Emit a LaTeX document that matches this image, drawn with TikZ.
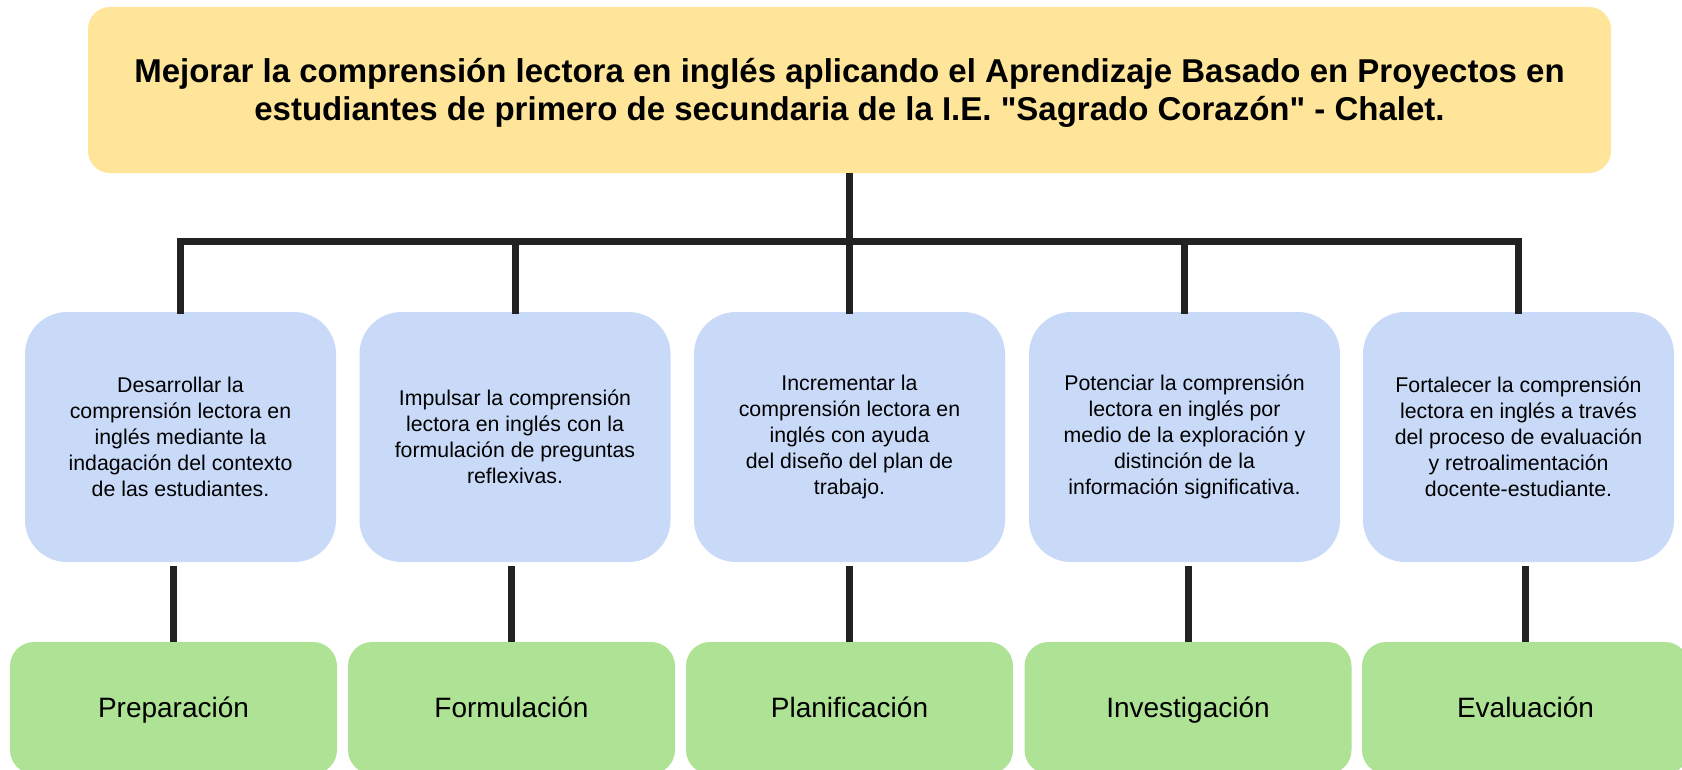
\documentclass[tikz,border=0pt]{standalone}
\usepackage{fontspec}
\setmainfont{Liberation Sans}[Ligatures=TeXOff]
\definecolor{yellowc}{HTML}{FFE599}
\definecolor{bluec}{HTML}{C9DAF8}
\definecolor{greenc}{HTML}{AEE294}
\definecolor{linec}{HTML}{222222}
\begin{document}
\begin{tikzpicture}[x=1pt,y=-1pt,
  topbox/.style={fill=yellowc, rounded corners=22pt, minimum width=1523pt, minimum height=166pt, inner sep=0pt},
  titletext/.style={inner sep=0pt, align=center, font=\fontsize{33}{38}\selectfont\bfseries},
  goalbox/.style={fill=bluec, rounded corners=42pt, minimum width=311pt, minimum height=250pt, inner sep=0pt, align=center, font=\fontsize{21.3}{26}\selectfont},
  phasebox/.style={fill=greenc, rounded corners=24pt, minimum width=327pt, minimum height=132pt, inner sep=0pt, text height=20pt, text depth=2pt, align=center, font=\fontsize{28}{34}\selectfont},
  link/.style={draw=linec, line width=7pt}]
\useasboundingbox (0,0) rectangle (1682,769);
\clip (0,0) rectangle (1682,769);

\node[topbox] (top) at (849.5,90) {};
\node[titletext] (title) at (849.5,93) {Mejorar la comprensión lectora en inglés aplicando el Aprendizaje Basado en Proyectos en\\estudiantes de primero de secundaria de la I.E. "Sagrado Corazón" - Chalet.};

\node[goalbox] (b1) at (180.5,437) {Desarrollar la\\comprensión lectora en\\inglés mediante la\\indagación del contexto\\de las estudiantes.};
\node[goalbox] (b2) at (515,437) {Impulsar la comprensión\\lectora en inglés con la\\formulación de preguntas\\reflexivas.};
\node[goalbox] (b3) at (849.5,437) {Incrementar la\\comprensión lectora en\\inglés con ayuda\\del diseño del plan de\\trabajo.};
\node[goalbox] (b4) at (1184.5,437) {Potenciar la comprensión\\lectora en inglés por\\medio de la exploración y\\distinción de la\\información significativa.};
\node[goalbox] (b5) at (1518.5,437) {Fortalecer la comprensión\\lectora en inglés a través\\del proceso de evaluación\\y retroalimentación\\docente-estudiante.};

\node[phasebox] (g1) at (173.5,708) {Preparación};
\node[phasebox] (g2) at (511.5,708) {Formulación};
\node[phasebox] (g3) at (849.5,708) {Planificación};
\node[phasebox] (g4) at (1188,708) {Investigación};
\node[phasebox] (g5) at (1525.5,708) {Evaluación};

\coordinate (bus) at (849.5,241.5);
\draw[link] (top.south) -- (bus);
\foreach \i in {1,...,5}{
  \draw[link] (bus) -| ([yshift=-2pt]b\i.north);
  \draw[link] (g\i.north) -- ([yshift=-4pt]g\i.north |- b\i.south);
}
\end{tikzpicture}
\end{document}
